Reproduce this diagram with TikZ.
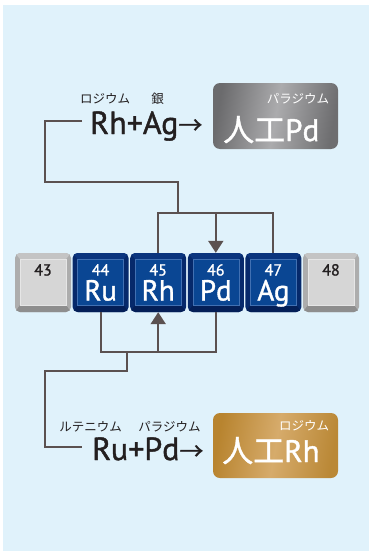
\documentclass[tikz,border=0pt]{standalone}
\usepackage{fontspec}
\setmainfont{PT Sans}
\newfontfamily\med[FakeBold=1.3]{PT Sans}
\newfontfamily\jp{Noto Sans CJK JP}
\newfontfamily\jpm[FakeBold=1]{Noto Sans CJK JP}
\usetikzlibrary{arrows.meta}
\definecolor{bg}{HTML}{E0F2FB}
\definecolor{conn}{HTML}{5B5150}
\definecolor{txt}{HTML}{231F20}
\definecolor{navyout}{HTML}{06296B}
\definecolor{navytop}{HTML}{0B357E}
\definecolor{navybot}{HTML}{041F57}
\definecolor{navyface}{HTML}{0A4693}
\definecolor{navyline}{HTML}{4170B2}
\definecolor{greyout}{HTML}{ADADAD}
\definecolor{greytop}{HTML}{C4C4C4}
\definecolor{greybot}{HTML}{8E8E8E}
\definecolor{greyface}{HTML}{D6D6D6}
\definecolor{greyline}{HTML}{E6E6E6}
\definecolor{pdL}{HTML}{6B6B6D}
\definecolor{pdM}{HTML}{ABABAD}
\definecolor{pdR}{HTML}{6E6E70}
\definecolor{rhL}{HTML}{B8842F}
\definecolor{rhM}{HTML}{D6AB6B}
\definecolor{rhR}{HTML}{BA8836}
\newcommand\tilefaces[4]{%
  \fill[#1,sharp corners] (path picture bounding box.north west) -- (path picture bounding box.north east)
    -- ([xshift=-5pt,yshift=-6pt]path picture bounding box.north east)
    -- ([xshift=5pt,yshift=-6pt]path picture bounding box.north west) -- cycle;
  \fill[#2,sharp corners] (path picture bounding box.south west) -- (path picture bounding box.south east)
    -- ([xshift=-5pt,yshift=7pt]path picture bounding box.south east)
    -- ([xshift=5pt,yshift=7pt]path picture bounding box.south west) -- cycle;
  \filldraw[fill=#3,draw=#4,line width=0.6pt,sharp corners]
    ([xshift=5pt,yshift=-6pt]path picture bounding box.north west)
    rectangle ([xshift=-5pt,yshift=7pt]path picture bounding box.south east);
}
\tikzset{
  tilebase/.style={minimum width=56pt,minimum height=59pt,inner sep=0pt,rounded corners=5pt},
  bluetile/.style={tilebase,fill=navyout,path picture={\tilefaces{navytop}{navybot}{navyface}{navyline}}},
  greytile/.style={tilebase,fill=greyout,path picture={\tilefaces{greytop}{greybot}{greyface}{greyline}}},
  numw/.style={text=white,inner sep=0pt,font=\med\fontsize{16}{16}\selectfont,anchor=base},
  numd/.style={text=txt,inner sep=0pt,font=\med\fontsize{16}{16}\selectfont,anchor=base},
  symw/.style={text=white,inner sep=0pt,font=\med\fontsize{29}{29}\selectfont,anchor=base},
  conn/.style={draw=conn,line width=2pt},
  arr/.style={conn,-{Triangle[width=15pt,length=12pt]}},
  big/.style={text=txt,inner sep=0pt,anchor=base west,font=\med\fontsize{32}{32}\selectfont},
  lab/.style={text=txt,inner sep=0pt,font=\jp\fontsize{12.5}{12.5}\selectfont},
  boxlab/.style={text=white,inner sep=0pt,font=\jp\fontsize{12.5}{12.5}\selectfont},
  boxbig/.style={text=white,inner sep=0pt,anchor=base west,font=\med\fontsize{31}{31}\selectfont},
  pdbox/.style={rounded corners=7pt,minimum width=125pt,minimum height=66pt,inner sep=0pt,
     left color=pdL,right color=pdR,middle color=pdM,shading angle=80},
  rhbox/.style={rounded corners=7pt,minimum width=125pt,minimum height=65pt,inner sep=0pt,
     left color=rhL,right color=rhR,middle color=rhM,shading angle=80},
}
\begin{document}
\begin{tikzpicture}[x=1pt,y=-1pt]
\useasboundingbox (0,0) rectangle (369,551);
\fill[bg] (3,5) rectangle (369,551);

% tiles
\node[greytile] (t43) at (43,282.5) {};
\node[bluetile] (t44) at (100.6,282.5) {};
\node[bluetile] (t45) at (158.2,282.5) {};
\node[bluetile] (t46) at (215.8,282.5) {};
\node[bluetile] (t47) at (273.4,282.5) {};
\node[greytile] (t48) at (331,282.5) {};

\node[numd] (n43) at (43,275.5) {43};
\node[numw] (n44) at (100.6,275.5) {44};
\node[numw] (n45) at (158.2,275.5) {45};
\node[numw] (n46) at (215.8,275.5) {46};
\node[numw] (n47) at (273.4,275.5) {47};
\node[numd] (n48) at (331,275.5) {48};
\node[symw] (s44) at (100.6,300.5) {Ru};
\node[symw] (s45) at (158.2,300.5) {Rh};
\node[symw] (s46) at (215.8,300.5) {Pd};
\node[symw] (s47) at (273.4,300.5) {Ag};

% top reaction
\node[lab] (lro) at (105,99) {ロジウム};
\node[lab] (lag) at (157.5,99) {銀};
\node[big] (rhag) at (90,134) {Rh+Ag{\jpm\fontsize{24}{24}\selectfont →}};
\node[pdbox] (pdb) at (275.5,116) {};
\node[boxlab] (pdlab) at (298,99) {パラジウム};
\node[boxbig] (pdt) at (223,141) {{\jpm 人工}Pd};

% bottom reaction
\node[lab] (lru) at (90.5,427) {ルテニウム};
\node[lab] (lpd) at (169.5,427) {パラジウム};
\node[big] (rupd) at (92,460) {Ru+Pd{\jpm\fontsize{24}{24}\selectfont →}};
\node[rhbox] (rhb) at (275.5,445.5) {};
\node[boxlab] (rhlab) at (304,426) {ロジウム};
\node[boxbig] (rht) at (222,462) {{\jpm 人工}Rh};

% connectors top
\coordinate (la) at (82,120.7);
\coordinate (ca) at (45,181.7);
\coordinate (jt) at (178,212.7);
\draw[conn] (la) -| (ca) -| (jt);
\draw[conn] (t45.north) |- (jt) -| (t47.north);
\draw[arr] (t46.north |- jt) -- (t46.north);

% connectors bottom
\coordinate (lb) at (82,447);
\coordinate (cb) at (45,370.7);
\coordinate (jb) at (126.7,351.7);
\draw[conn] (t44.south) |- (jb) -| (t46.south);
\draw[arr] (t45.south |- jb) -- (t45.south);
\draw[conn] (jb) |- (cb) |- (lb);
\end{tikzpicture}
\end{document}
